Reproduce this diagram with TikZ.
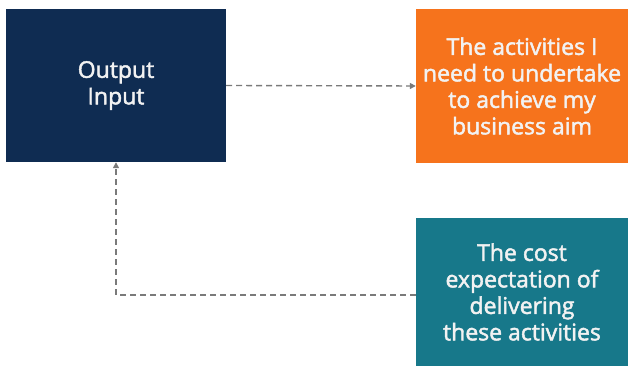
\documentclass[tikz,border=0pt]{standalone}
\usepackage{fontspec}
\setmainfont{Open Sans}
\newfontfamily\boxfont{Open Sans}[FakeBold=2]
\usetikzlibrary{arrows.meta}
\definecolor{navyblue}{HTML}{0F2C52}
\definecolor{actorange}{HTML}{F6731C}
\definecolor{costteal}{HTML}{17788A}
\definecolor{linkgray}{HTML}{7A7A7A}

\begin{document}
\begin{tikzpicture}[
  x=1pt, y=1pt,
  >={Triangle[length=6pt, width=6pt]},
  every node/.style={font=\boxfont\fontsize{23}{26.5}\selectfont},
  box/.style={inner sep=0pt, align=center, text=white!90!gray},
  iobox/.style={box, fill=navyblue, minimum width=220pt, minimum height=153pt},
  actbox/.style={box, fill=actorange, minimum width=212pt, minimum height=154pt},
  costbox/.style={box, fill=costteal, minimum width=212pt, minimum height=148pt},
  link/.style={->, linkgray, line width=1.4pt, dash pattern=on 6pt off 4pt}
]
\useasboundingbox (0,0) rectangle (628,366);

% Boxes
\node[iobox] (io) at (116, 280.5) {Output\\Input};
\node[actbox] (act) at (522, 280) {The activities I\\need to undertake\\to achieve my\\business aim};
\node[costbox] (cost) at (522, 74) {The cost\\expectation of\\delivering\\these activities};

% Links
\draw[link] (io.east) -- (act.west);
\draw[link] ([yshift=-3pt]cost.west) -| (io.south);

\end{tikzpicture}
\end{document}
